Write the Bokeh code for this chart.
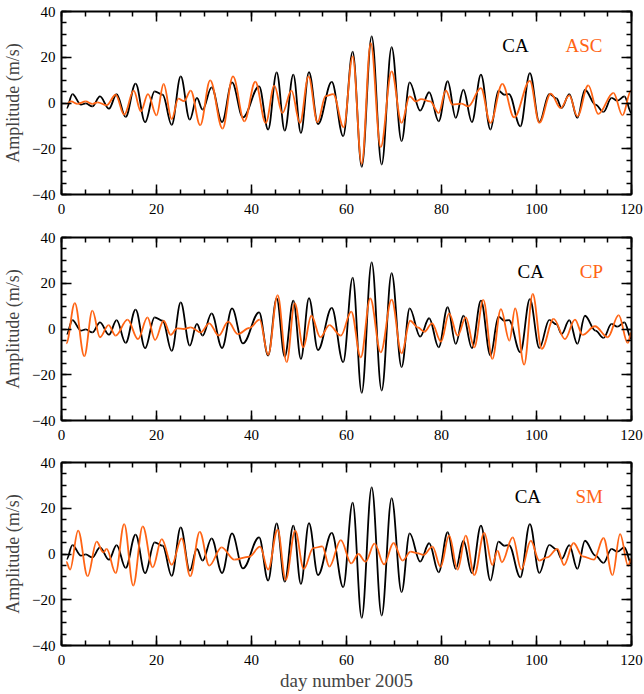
import numpy as np
from bokeh.plotting import figure
from bokeh.layouts import column
from bokeh.models import Range1d, LinearAxis, Label, ColumnDataSource, SingleIntervalTicker
from bokeh.embed import file_html
from bokeh.resources import INLINE

# ---------------- data ----------------
ca_day = [1.1, 2.3, 4.1, 5.1, 6.5, 8.1, 10.0, 11.6, 13.5, 15.6,
          17.6, 19.6, 21.3, 23.2, 25.1, 27.0, 28.5, 29.7, 31.6, 33.8,
          35.9, 38.2, 41.6, 43.5, 45.3, 47.0, 48.8, 50.4, 52.1, 54.0,
          56.9, 59.3, 61.3, 63.2, 65.3, 67.4, 69.5, 71.6, 73.3, 75.5,
          77.4, 79.4, 81.3, 83.0, 84.6, 86.4, 88.3, 90.3, 92.0, 93.2,
          94.2, 96.6, 98.6, 100.6, 102.7, 104.2, 105.3, 106.9, 108.6, 110.2,
          112.4, 114.1, 115.8, 117.0, 118.5, 120.0]
ca_val = [-2.2, 3.9, -0.7, -0.2, -1.5, 2.9, -2.5, 3.9, -6.1, 8.5,
          -8.4, 5.1, 3.6, -9.6, 11.6, -7.3, 2.2, -2.9, 6.8, -8.3,
          9.0, -6.3, 7.3, -11.6, 13.4, -12.1, 12.4, -13.1, 13.5, -9.2,
          9.2, -14.5, 22.5, -27.9, 29.1, -26.9, 24.4, -16.7, 9.0, -3.3,
          4.7, -8.0, 9.5, -6.5, 5.8, -8.3, 12.4, -11.6, 5.4, 3.6,
          3.9, -10.2, 13.1, -8.3, 4.0, 2.0, -2.2, 3.9, -6.5, 5.8,
          -0.7, -3.9, 2.2, 1.0, 2.9, -4.4]

asc_day = [1.1, 2.0, 3.4, 5.1, 6.5, 7.6, 9.5, 11.4, 13.2, 15.2,
           16.7, 18.2, 20.0, 21.5, 23.2, 24.6, 25.8, 27.2, 29.2, 31.3,
           33.9, 36.1, 38.5, 40.8, 43.0, 44.8, 46.5, 48.4, 50.2, 52.0,
           53.9, 55.6, 57.2, 59.4, 61.3, 63.2, 65.1, 67.2, 69.5, 71.6,
           73.3, 74.6, 75.7, 77.6, 79.4, 80.9, 82.3, 84.2, 85.6, 88.3,
           90.3, 92.8, 95.3, 98.6, 100.6, 103.0, 105.1, 106.9, 108.6, 110.9,
           113.0, 116.2, 118.1, 119.9]
asc_val = [-0.4, 0.7, -0.4, 0.7, -0.4, 0.3, -1.0, 3.6, -5.1, 5.4,
           -3.6, 3.9, -5.4, 8.3, -7.0, 1.9, 0.8, 5.4, -9.7, 9.9,
           -11.2, 11.6, -8.0, 9.3, -8.7, 7.6, -4.4, 5.4, -8.7, 11.6,
           -8.4, 3.0, 3.9, -10.6, 20.4, -26.6, 26.2, -19.3, 13.8, -8.7,
           2.9, 0.7, 1.7, 0.7, -4.4, 5.5, -0.7, -0.3, -1.5, 6.5,
           -8.7, 8.4, -6.3, 9.7, -8.7, 4.1, -2.2, 3.3, -5.8, 7.7,
           -4.8, 4.4, -5.4, 5.4]

cp_day = [1.0, 2.8, 4.8, 6.5, 8.1, 9.9, 11.4, 13.9, 16.1, 18.1,
          19.7, 21.5, 23.0, 24.3, 25.8, 27.2, 29.3, 31.1, 33.1, 35.1,
          37.1, 39.6, 41.7, 43.5, 45.5, 47.4, 49.1, 50.9, 52.6, 54.5,
          56.4, 58.8, 61.0, 63.0, 65.0, 67.2, 69.5, 71.6, 73.4, 75.0,
          76.4, 78.0, 79.9, 81.6, 83.4, 85.1, 86.9, 88.8, 90.7, 92.5,
          94.3, 95.5, 97.4, 99.2, 101.1, 103.6, 106.0, 108.1, 109.7, 112.3,
          115.0, 117.3, 119.2, 120.0]
cp_val = [-6.3, 11.3, -11.9, 8.0, -3.6, 1.7, -2.9, 4.1, -4.4, 5.1,
          -4.8, 3.6, -2.6, 0.3, 0.0, 0.7, -1.5, 2.5, -2.9, 3.2,
          -2.2, 0.5, 4.1, -11.3, 14.8, -14.5, 11.3, -8.0, 5.8, -3.6,
          1.7, -2.9, 7.6, -12.4, 13.4, -10.2, 12.8, -10.6, 3.6, 0.7,
          -1.2, 2.5, -5.5, 6.8, -2.9, 5.1, -8.0, 12.7, -13.1, 8.7,
          -5.1, 9.0, -15.6, 15.3, -8.7, 4.4, -4.4, 4.1, -2.6, 1.2,
          -3.6, 6.1, -6.1, -1.5]

sm_day = [1.0, 1.8, 3.5, 5.5, 7.4, 8.8, 9.5, 11.4, 13.2, 15.1,
          17.1, 19.2, 21.1, 23.2, 25.3, 27.1, 29.1, 31.1, 33.7, 36.4,
          39.5, 41.8, 43.5, 45.5, 47.2, 49.2, 51.0, 53.0, 54.9, 56.4,
          58.8, 61.0, 62.5, 64.0, 65.9, 67.9, 69.9, 71.8, 73.5, 74.9,
          76.2, 78.1, 79.8, 81.6, 83.4, 85.1, 86.9, 89.0, 90.7, 91.8,
          92.7, 95.0, 96.8, 98.8, 100.6, 102.2, 104.4, 105.8, 107.8, 109.7,
          112.1, 114.1, 116.0, 117.6, 119.3, 120.0]
sm_val = [-3.5, -6.8, 10.2, -9.7, 5.4, 0.7, 2.2, -8.3, 13.1, -13.8,
          12.1, -5.8, 6.5, -4.7, 6.8, -9.7, 9.7, -5.1, 2.9, -2.5,
          -1.2, 3.2, -6.8, 10.6, -11.3, 10.2, -6.5, 2.6, 3.3, -5.5,
          6.1, -4.1, 0.0, -3.4, 4.5, -4.5, 4.8, -2.9, 1.0, 0.4,
          -0.4, 3.2, -5.6, 8.0, -6.8, 8.0, -9.2, 9.2, -4.8, 1.5,
          -3.6, 7.3, -6.8, 5.8, -2.9, -1.5, 2.2, -4.8, 4.8, -1.0,
          -2.5, 7.0, -9.2, 8.7, -5.1, -2.0]

reference_name = "CA"
other_names = ["ASC", "CP", "SM"]
x_label = "day number 2005"
y_label = "Amplitude (m/s)"

# ---------------- styling ----------------
FONT = "Liberation Serif"
ORANGE = "#ff6414"
BLACK = "#000000"


def curve_source(days, vals):
    d = np.asarray(days, float)
    v = np.asarray(vals, float)
    x0, x1 = d[:-1], d[1:]
    y0, y1 = v[:-1], v[1:]
    k = 1.0 - 2.0 / np.pi
    dx = x1 - x0
    return ColumnDataSource(dict(x0=x0, y0=y0, x1=x1, y1=y1,
                                 cx0=x0 + k * dx, cy0=y0,
                                 cx1=x1 - k * dx, cy1=y1))


def style_axis(ax, show_labels, standoff=6):
    ax.ticker = SingleIntervalTicker(interval=20, num_minor_ticks=4)
    ax.axis_line_width = 2
    ax.axis_line_color = BLACK
    ax.major_tick_in = 10
    ax.major_tick_out = 0
    ax.minor_tick_in = 5
    ax.minor_tick_out = 0
    ax.major_tick_line_width = 1.5
    ax.minor_tick_line_width = 1.5
    ax.major_tick_line_color = BLACK
    ax.minor_tick_line_color = BLACK
    if show_labels:
        ax.major_label_text_font = FONT
        ax.major_label_text_font_size = "15px"
        ax.major_label_text_color = BLACK
        ax.major_label_standoff = standoff
    else:
        ax.major_label_text_color = None
        ax.major_label_text_font_size = "0px"
        ax.major_label_standoff = 0


def make_panel(days, vals, name, top, bottom, with_xlabel, legend_x):
    p = figure(frame_width=570, frame_height=183,
               x_range=Range1d(0, 120), y_range=Range1d(-40, 40),
               output_backend="svg", toolbar_location=None,
               x_axis_location=None, y_axis_location=None,
               min_border_left=59, min_border_right=15,
               min_border_top=top, min_border_bottom=bottom)
    p.grid.visible = False
    p.outline_line_color = None
    p.background_fill_color = "white"
    p.border_fill_color = "white"

    bottom_ax = LinearAxis()
    style_axis(bottom_ax, True, standoff=9)
    if with_xlabel:
        bottom_ax.axis_label = x_label
        bottom_ax.axis_label_text_font = FONT
        bottom_ax.axis_label_text_font_style = "normal"
        bottom_ax.axis_label_text_font_size = "19px"
        bottom_ax.axis_label_standoff = 2
    p.add_layout(bottom_ax, "below")

    left_ax = LinearAxis()
    style_axis(left_ax, True, standoff=6)
    left_ax.axis_label = y_label
    left_ax.axis_label_text_font = FONT
    left_ax.axis_label_text_font_style = "normal"
    left_ax.axis_label_text_font_size = "18px"
    left_ax.axis_label_standoff = 6
    p.add_layout(left_ax, "left")

    top_ax = LinearAxis()
    style_axis(top_ax, False)
    p.add_layout(top_ax, "above")
    right_ax = LinearAxis()
    style_axis(right_ax, False)
    p.add_layout(right_ax, "right")

    ca_src = curve_source(ca_day, ca_val)
    p.bezier(x0="x0", y0="y0", x1="x1", y1="y1", cx0="cx0", cy0="cy0",
             cx1="cx1", cy1="cy1", source=ca_src, line_color=BLACK, line_width=1.8)
    o_src = curve_source(days, vals)
    p.bezier(x0="x0", y0="y0", x1="x1", y1="y1", cx0="cx0", cy0="cy0",
             cx1="cx1", cy1="cy1", source=o_src, line_color=ORANGE, line_width=1.8)

    p.add_layout(Label(x=legend_x[0], y=25.3, text=reference_name, text_font=FONT,
                       text_font_size="19px", text_color=BLACK,
                       text_baseline="alphabetic"))
    p.add_layout(Label(x=legend_x[1], y=25.3, text=name, text_font=FONT,
                       text_font_size="19px", text_color=ORANGE,
                       text_baseline="alphabetic"))
    return p


p1 = make_panel(asc_day, asc_val, other_names[0], 11, 30, False, (92.8, 106.1))
p2 = make_panel(cp_day, cp_val, other_names[1], 13, 30, False, (96.0, 109.1))
p3 = make_panel(sm_day, sm_val, other_names[2], 12, 49, True, (95.4, 108.2))

layout = column(p1, p2, p3, spacing=0)
open("out.html", "w").write(file_html(layout, INLINE))
